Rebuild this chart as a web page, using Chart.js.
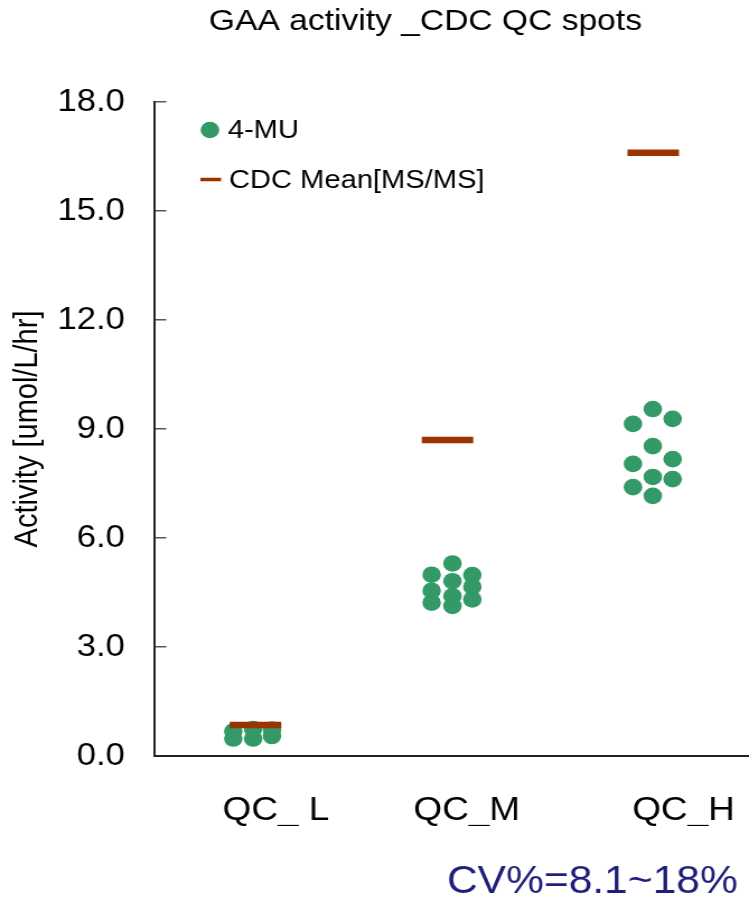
<!DOCTYPE html>
<html>
<head>
<meta charset="utf-8">
<title>GAA activity _CDC QC spots</title>
<script src="https://cdn.jsdelivr.net/npm/chart.js@4.4.1/dist/chart.umd.min.js"></script>
<style>
html, body { margin: 0; padding: 0; background: #fff; }
canvas { display: block; }
</style>
</head>
<body>
<!-- the original picture is a bit stretched sideways, so the canvas is drawn narrower and shown at full width -->
<canvas id="chart" width="669" height="900" style="width:749px;height:900px"></canvas>
<script>
var categories = ['QC_ L', 'QC_M', 'QC_H'];
var yTicks = [0, 3, 6, 9, 12, 15, 18];

// 4-MU spots per QC level (activity), with the sideways shift of each dot
var qcL = [0.68, 0.48, 0.74, 0.48, 0.73, 0.55];
var qcLShift = [-0.1, -0.1, 0, 0, 0.095, 0.095];
var qcM = [4.99, 4.55, 4.22, 5.30, 4.81, 4.40, 4.13, 4.98, 4.66, 4.31];
var qcMShift = [-0.1, -0.1, -0.1, 0.005, 0.005, 0.005, 0.005, 0.105, 0.105, 0.105];
var qcH = [9.14, 8.04, 7.40, 9.55, 8.53, 7.68, 7.16, 9.28, 8.17, 7.62];
var qcHShift = [-0.085, -0.085, -0.085, 0.015, 0.015, 0.015, 0.015, 0.115, 0.115, 0.115];

// CDC mean (MS/MS)
var cdcMean = [0.85, 8.7, 16.6];
var cdcShift = [0.012, -0.02, 0.017];

// where the category names sit (they are not centred on the groups)
var labelShift = [0.115, 0.077, 0.17];

var green = '#339966';
var brown = '#993300';
var fontFamily = '"Liberation Sans", Arial, sans-serif';

Chart.defaults.font.family = fontFamily;
Chart.defaults.color = '#000';

function toPoints(values, shifts, cat) {
    return values.map(function (v, i) {
        return { x: cat + 1 + shifts[i], y: v };
    });
}

var muPoints = []
    .concat(toPoints(qcL, qcLShift, 0))
    .concat(toPoints(qcM, qcMShift, 1))
    .concat(toPoints(qcH, qcHShift, 2));

var meanPoints = cdcMean.map(function (v, i) {
    return { x: i + 1 + cdcShift[i], y: v };
});

// legend, title and the CV note drawn by hand
var extras = {
    id: 'extras',
    afterDraw: function (chart) {
        var ctx = chart.ctx;
        var area = chart.chartArea;
        var ds = chart.data.datasets;
        ctx.save();
        ctx.textBaseline = 'middle';
        ctx.textAlign = 'left';
        ctx.font = '26px ' + fontFamily;

        var lx = area.left + 50;
        ctx.fillStyle = ds[0].backgroundColor;
        ctx.beginPath();
        ctx.arc(lx, 130, 8.3, 0, Math.PI * 2);
        ctx.fill();
        ctx.fillStyle = '#000';
        ctx.fillText(ds[0].label, lx + 16, 131);

        ctx.strokeStyle = ds[1].borderColor;
        ctx.lineWidth = 3.5;
        ctx.beginPath();
        ctx.moveTo(lx - 8.5, 179.5);
        ctx.lineTo(lx + 10, 179.5);
        ctx.stroke();
        ctx.fillText(ds[1].label, lx + 17, 181);

        ctx.textAlign = 'center';
        ctx.font = '30px ' + fontFamily;
        ctx.fillText('GAA activity _CDC QC spots', 380, 22);

        ctx.textAlign = 'right';
        ctx.font = '38px ' + fontFamily;
        ctx.fillStyle = '#1f1f7a';
        ctx.fillText('CV%=8.1~18%', 659, 883);
        ctx.restore();
    }
};

var chart = new Chart(document.getElementById('chart'), {
    type: 'scatter',
    data: {
        datasets: [
            {
                label: '4-MU',
                data: muPoints,
                backgroundColor: green,
                borderWidth: 0,
                pointRadius: 8.3,
                pointHoverRadius: 8.3,
                order: 2
            },
            {
                label: 'CDC Mean[MS/MS]',
                data: meanPoints,
                pointStyle: 'line',
                borderColor: brown,
                backgroundColor: brown,
                borderWidth: 6.5,
                pointRadius: 23,
                pointHoverRadius: 23,
                order: 1
            }
        ]
    },
    plugins: [extras],
    options: {
        responsive: false,
        maintainAspectRatio: false,
        animation: false,
        events: [],
        layout: {
            autoPadding: false,
            padding: { top: 102, bottom: 74, left: 0, right: 0 }
        },
        plugins: {
            legend: { display: false },
            tooltip: { enabled: false },
            title: { display: false }
        },
        scales: {
            x: {
                type: 'linear',
                min: 0.5,
                max: 3.5,
                afterFit: function (scale) {
                    scale.height = 70;
                    scale.paddingLeft = 0;
                    scale.paddingRight = 0;
                },
                afterBuildTicks: function (scale) {
                    scale.ticks = labelShift.map(function (s, i) { return { value: i + 1 + s }; });
                },
                ticks: {
                    autoSkip: false,
                    maxRotation: 0,
                    padding: 27,
                    font: { size: 33 },
                    color: '#000',
                    callback: function (v, i) { return categories[i]; }
                },
                grid: { display: false },
                border: { display: true, color: '#222', width: 2 }
            },
            y: {
                min: 0,
                max: 18,
                afterFit: function (scale) {
                    scale.width = 137.5;
                    scale.paddingTop = 0;
                    scale.paddingBottom = 0;
                },
                afterBuildTicks: function (scale) {
                    scale.ticks = yTicks.map(function (v) { return { value: v }; });
                },
                ticks: {
                    padding: 37,
                    font: { size: 31 },
                    color: '#000',
                    callback: function (v) { return v.toFixed(1); }
                },
                grid: {
                    drawOnChartArea: false,
                    drawTicks: true,
                    tickLength: -11,
                    color: '#555',
                    lineWidth: 1.5
                },
                border: { display: true, color: '#222', width: 2 },
                title: {
                    display: true,
                    text: 'Activity [umol/L/hr]',
                    font: { size: 29 },
                    color: '#000',
                    padding: { top: 8, bottom: 0 }
                }
            }
        }
    }
});
</script>
</body>
</html>
